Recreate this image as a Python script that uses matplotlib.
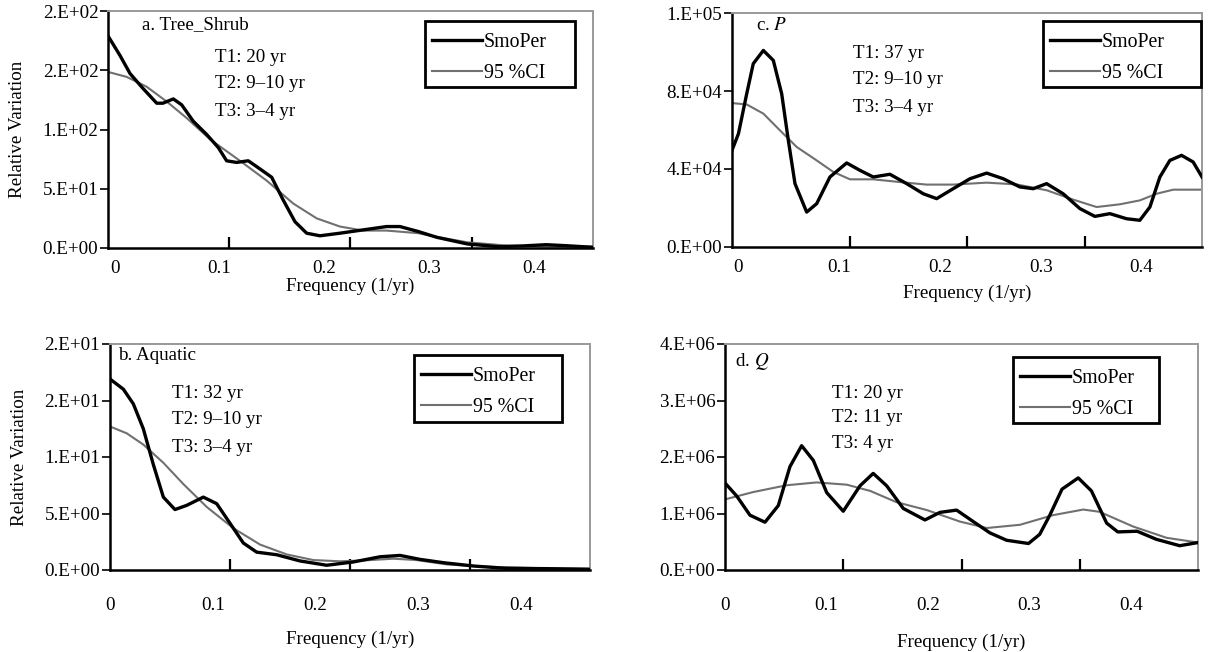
import numpy as np
import matplotlib.pyplot as plt
from matplotlib.patches import Rectangle

plt.rcParams['font.family'] = ['Liberation Serif', 'DejaVu Serif']
plt.rcParams['mathtext.fontset'] = 'stix'

# ---- values ----
# a. Tree_Shrub
fa_smo = [-0.0063, 0.0051, 0.0147, 0.027, 0.0401, 0.046, 0.0559, 0.0639, 0.075, 0.0877, 0.0988,
          0.1067, 0.1162, 0.1273, 0.1385, 0.1496, 0.1607, 0.1718, 0.1829, 0.1956, 0.2147, 0.2369,
          0.2591, 0.2718, 0.2893, 0.307, 0.336, 0.366, 0.39, 0.411, 0.429, 0.4557]
a_smo = [179, 162.5, 147.2, 134.7, 122.2, 122.2, 125.8, 120.8, 106.9, 95.8, 84.7,
         73.6, 72.2, 73.6, 66.7, 59.7, 40.3, 22.2, 12.5, 10.3, 12.5, 15.3,
         18.1, 18.1, 13.9, 9, 3.4, 1.1, 1.8, 2.8, 2, 0.6]
fa_ci = [-0.0063, 0.0115, 0.0305, 0.0496, 0.0686, 0.0909, 0.1194, 0.1448, 0.1702, 0.1925, 0.2147,
         0.2369, 0.2591, 0.2893, 0.3, 0.336, 0.374, 0.411, 0.4557]
a_ci = [148.6, 144.4, 136.1, 123.6, 109.7, 91.7, 73.6, 56.9, 37.5, 25, 18.1,
        14.7, 14.7, 12.5, 10.5, 4.8, 2, 1.1, 1.1]

# b. Aquatic
fb_smo = [0, 0.013, 0.0227, 0.0324, 0.0421, 0.0519, 0.0632, 0.0746, 0.0908, 0.1038, 0.1168,
          0.1297, 0.1427, 0.1622, 0.1849, 0.2108, 0.2367, 0.2627, 0.2822, 0.3016, 0.325, 0.354,
          0.385, 0.423, 0.467]
b_smo = [16.9, 16.0, 14.7, 12.5, 9.35, 6.45, 5.35, 5.72, 6.45, 5.87, 4.13,
         2.39, 1.58, 1.35, 0.8, 0.42, 0.71, 1.17, 1.29, 0.94, 0.64, 0.35,
         0.15, 0.12, 0.06]
fb_ci = [0, 0.0162, 0.0324, 0.0519, 0.0713, 0.0941, 0.12, 0.146, 0.1719, 0.1978, 0.2238, 0.2498,
         0.2757, 0.2984, 0.328, 0.366, 0.423, 0.467]
b_ci = [12.7, 12.1, 11.1, 9.49, 7.61, 5.58, 3.7, 2.25, 1.38, 0.88, 0.77, 0.86,
        1.0, 0.88, 0.49, 0.29, 0.15, 0.12]

# c. P
fc_smo = [-0.0064, 0.0, 0.0082, 0.0147, 0.0247, 0.0346, 0.0429, 0.0495, 0.0561, 0.0677, 0.0776,
          0.0908, 0.1074, 0.1206, 0.1338, 0.1503, 0.1669, 0.1834, 0.1967, 0.2131, 0.2297, 0.2463,
          0.2628, 0.2793, 0.2925, 0.3058, 0.3222, 0.3388, 0.3537, 0.3686, 0.3851, 0.3983, 0.4083,
          0.4182, 0.4281, 0.4397, 0.4512, 0.46]
c_smo = [49.6e3, 58.1e3, 78.6e3, 94e3, 100.8e3, 95.7e3, 78.6e3, 54.7e3, 32.5e3, 17.9e3, 22.2e3,
         35.9e3, 43.1e3, 39.3e3, 35.9e3, 37.3e3, 32.5e3, 27.3e3, 24.8e3, 29.9e3, 35e3, 37.9e3,
         35e3, 30.8e3, 29.9e3, 32.5e3, 27.3e3, 19.7e3, 15.7e3, 17.1e3, 14.5e3, 13.7e3, 20.5e3,
         35.9e3, 44.4e3, 47e3, 43.6e3, 35.9e3]
fc_ci = [-0.0064, 0.0082, 0.0247, 0.0412, 0.0578, 0.0776, 0.0941, 0.1107, 0.1338, 0.1603, 0.1867,
         0.2131, 0.2463, 0.276, 0.3058, 0.3322, 0.3554, 0.3785, 0.3983, 0.4149, 0.4314, 0.46]
c_ci = [73.8e3, 73.1e3, 68.4e3, 59.8e3, 51.3e3, 44.4e3, 38.5e3, 34.7e3, 34.7e3, 33.3e3, 32e3,
        32e3, 33e3, 32.1e3, 29.1e3, 24.3e3, 20.5e3, 21.9e3, 23.9e3, 27.3e3, 29.4e3, 29.4e3]

# d. Q
fd_smo = [0, 0.0115, 0.0246, 0.0394, 0.0525, 0.064, 0.0755, 0.087, 0.1002, 0.1165, 0.133, 0.146,
          0.1593, 0.1756, 0.197, 0.2118, 0.2282, 0.2446, 0.261, 0.2775, 0.299, 0.31, 0.32, 0.332,
          0.348, 0.361, 0.376, 0.387, 0.406, 0.425, 0.448, 0.466]
d_smo = [1.54e6, 1.31e6, 0.97e6, 0.846e6, 1.14e6, 1.83e6, 2.2e6, 1.94e6, 1.37e6, 1.04e6, 1.49e6,
         1.71e6, 1.49e6, 1.09e6, 0.886e6, 1.02e6, 1.06e6, 0.857e6, 0.657e6, 0.526e6, 0.469e6,
         0.63e6, 0.97e6, 1.43e6, 1.63e6, 1.4e6, 0.83e6, 0.674e6, 0.686e6, 0.543e6, 0.43e6, 0.486e6]
fd_ci = [0, 0.0279, 0.0608, 0.0903, 0.12, 0.143, 0.169, 0.199, 0.2315, 0.2578, 0.2906, 0.323,
         0.353, 0.369, 0.402, 0.435, 0.466]
d_ci = [1.25e6, 1.38e6, 1.5e6, 1.55e6, 1.51e6, 1.4e6, 1.2e6, 1.06e6, 0.857e6, 0.743e6, 0.8e6,
        0.97e6, 1.07e6, 1.03e6, 0.77e6, 0.57e6, 0.486e6]

x_ticks = [0, 0.1, 0.2, 0.3, 0.4]
x_ticklabels = ['0', '0.1', '0.2', '0.3', '0.4']

a_yticks = [0, 50, 100, 150, 200]
a_yticklabels = ['0.E+00', '5.E+01', '1.E+02', '2.E+02', '2.E+02']
b_yticks = [0, 5, 10, 15, 20]
b_yticklabels = ['0.E+00', '5.E+00', '1.E+01', '2.E+01', '2.E+01']
c_yticks = [0, 40000, 80000, 120000]
c_yticklabels = ['0.E+00', '4.E+04', '8.E+04', '1.E+05']
d_yticks = [0, 1e6, 2e6, 3e6, 4e6]
d_yticklabels = ['0.E+00', '1.E+06', '2.E+06', '3.E+06', '4.E+06']

a_periods = ['T1: 20 yr', 'T2: 9–10 yr', 'T3: 3–4 yr']
b_periods = ['T1: 32 yr', 'T2: 9–10 yr', 'T3: 3–4 yr']
c_periods = ['T1: 37 yr', 'T2: 9–10 yr', 'T3: 3–4 yr']
d_periods = ['T1: 20 yr', 'T2: 11 yr', 'T3: 4 yr']

W, H = 1210, 652
fig = plt.figure(figsize=(W / 100, H / 100), dpi=100)


def fx(px):
    return px / W


def fy(py):
    return 1 - py / H


FS = 13.7

panels = [
    # box px, xlim, data, yticks, labels, title, periods, title px, period px, legend box px, ylabel, tickpad, labelpad
    ((108, 11, 593, 248), (-0.0063, 0.4557), (fa_smo, a_smo, fa_ci, a_ci), a_yticks, a_yticklabels,
     'a. Tree_Shrub', a_periods, (142, 25), (215, [57, 84, 111]), (425, 21, 575, 87), True, 8.8, 0),
    ((732, 13, 1202, 247), (-0.0064, 0.46), (fc_smo, c_smo, fc_ci, c_ci), c_yticks, c_yticklabels,
     'c. $P$', c_periods, (756, 26), (853, [53, 80, 107]), (1043, 21, 1201, 87), False, 8.8, 6),
    ((110, 344, 590, 570), (0, 0.467), (fb_smo, b_smo, fb_ci, b_ci), b_yticks, b_yticklabels,
     'b. Aquatic', b_periods, (118, 355), (172, [393, 420, 447]), (414, 355, 562, 422), True, 19.5, 12.2),
    ((725, 344, 1198, 570), (0, 0.466), (fd_smo, d_smo, fd_ci, d_ci), d_yticks, d_yticklabels,
     'd. $Q$', d_periods, (735, 362), (832, [393, 417, 444]), (1013, 357, 1159, 423), False, 19.5, 14.2),
]

for (box, xlim, data, yt, ytl, title, periods, tpos, ppos, lbox, ylab, tpad, lpad) in panels:
    l, t, r, b = box
    ax = fig.add_axes([fx(l), fy(b), fx(r) - fx(l), fy(t) - fy(b)])
    fs, smo, fc, ci = data
    ax.plot(fc, ci, color='#707070', lw=1.5, label='95 %CI', zorder=2)
    ax.plot(fs, smo, color='black', lw=2.4, label='SmoPer', zorder=3)
    ax.set_xlim(*xlim)
    ax.set_ylim(yt[0], yt[-1])
    ax.set_xticks(x_ticks)
    ax.set_xticklabels(x_ticklabels)
    # quarter tick marks of the category axis
    ax.set_xticks([xlim[0] + k * (xlim[1] - xlim[0]) / 4 for k in (1, 2, 3)], minor=True)
    ax.tick_params(axis='x', which='major', length=0, pad=tpad, labelsize=FS)
    ax.tick_params(axis='x', which='minor', length=8, width=1.6, direction='in')
    ax.set_yticks(yt)
    ax.set_yticklabels(ytl)
    ax.tick_params(axis='y', length=6, width=1.2, pad=1, labelsize=FS)
    ax.set_xlabel('Frequency (1/yr)', fontsize=FS, labelpad=lpad)
    if ylab:
        ax.set_ylabel('Relative Variation', fontsize=FS, labelpad=12)
    for s in ['left', 'bottom']:
        ax.spines[s].set_linewidth(1.8)
        ax.spines[s].set_color('black')
    for s in ['top', 'right']:
        ax.spines[s].set_linewidth(1.4)
        ax.spines[s].set_color('#999999')

    fig.text(fx(tpos[0]), fy(tpos[1]), title, fontsize=FS, va='center', ha='left')
    for txt, yy in zip(periods, ppos[1]):
        fig.text(fx(ppos[0]), fy(yy), txt, fontsize=FS, va='center', ha='left')

    # legend: frame drawn as a box, entries placed inside it
    bl, bt, br, bb = lbox
    ax.add_patch(Rectangle((fx(bl), fy(bb)), fx(br) - fx(bl), fy(bt) - fy(bb), transform=fig.transFigure,
                           facecolor='white', edgecolor='black', lw=2.0, zorder=5, clip_on=False))
    handles, labels = ax.get_legend_handles_labels()
    leg = ax.legend(handles[::-1], labels[::-1], loc='upper left', bbox_to_anchor=(fx(bl + 7), fy(bt + 12)),
                    bbox_transform=fig.transFigure, frameon=False, fontsize=14.3,
                    handlelength=2.5, handletextpad=0.1, labelspacing=0.62, borderpad=0,
                    borderaxespad=0)
    leg.set_zorder(6)

fig.savefig('out.png', dpi=100)
